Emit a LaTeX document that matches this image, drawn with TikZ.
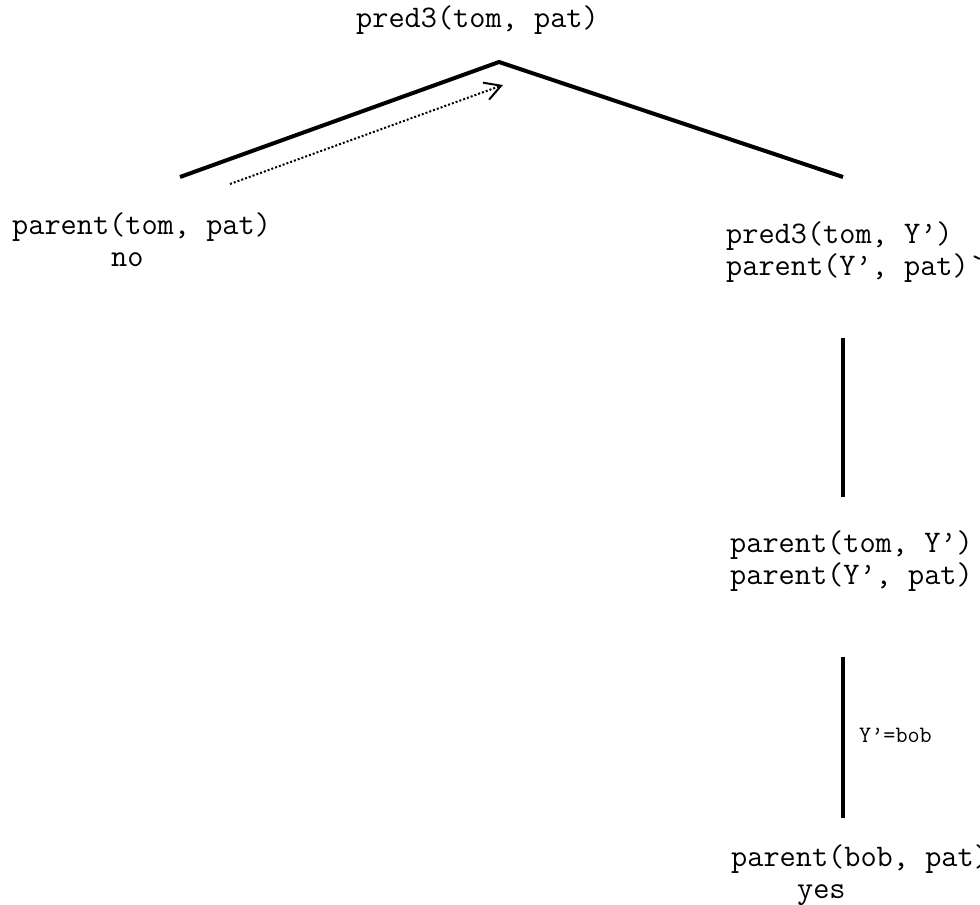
\documentclass[tikz,border=0pt]{standalone}
\usepackage{fontspec}
\usetikzlibrary{arrows.meta}
\tikzset{
  goal/.style={font=\ttfamily\fontsize{31.4}{32}\selectfont, align=left, inner sep=0pt, anchor=base west},
  subst/.style={font=\ttfamily\fontsize{23.5}{26}\selectfont, inner sep=0pt, anchor=base west},
  branch/.style={line width=4pt},
  backtrack/.style={line width=2pt, dotted, -{Straight Barb[length=16pt, width=18pt, line width=2pt]}}
}
\begin{document}
\begin{tikzpicture}[x=1pt, y=-1pt]
  \useasboundingbox (0,0) rectangle (980,905);

  % goals of the proof tree (anchored at the baseline of their last line)
  \node[goal] (root)  at (356,27)  {pred3(tom, pat)};
  \node[goal] (left)  at (12,266)  {parent(tom, pat)\\\hspace*{3.15em}no};
  \node[goal] (right) at (726,275) {pred3(tom, Y’)\\parent(Y’, pat)`};
  \node[goal] (mid)   at (730,584) {parent(tom, Y’)\\parent(Y’, pat)};
  \node[goal] (leaf)  at (731,898) {parent(bob, pat)\\\hspace*{2.1em}yes};

  % branch end points
  \coordinate (apex)    at (499,62);
  \coordinate (l-end)   at (180,177);
  \coordinate (r-end)   at (843,177);
  \coordinate (m-top)   at (843,338);
  \coordinate (m-bot)   at (843,497);
  \coordinate (b-top)   at (843,657);
  \coordinate (b-bot)   at (843,818);
  \coordinate (bt-from) at (230,184);
  \coordinate (bt-to)   at (503,85);

  \draw[branch, line join=miter] (l-end) -- (apex) -- (r-end);
  \draw[branch] (m-top) -- (m-bot);
  \draw[branch] (b-top) -- (b-bot);
  \node[subst] (unif) at (859,742) {Y’=bob};

  % backtracking after the failed goal
  \draw[backtrack] (bt-from) -- (bt-to);
\end{tikzpicture}
\end{document}
